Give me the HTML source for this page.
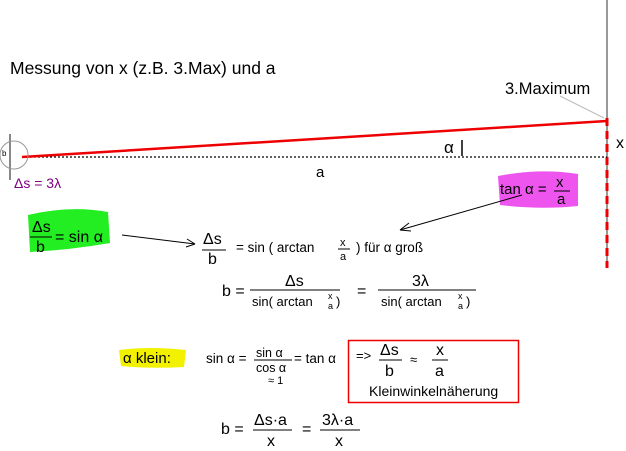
<!DOCTYPE html>
<html><head><style>body{margin:0;background:#fff}svg{display:block}text{font-family:"Liberation Sans",sans-serif;fill:#000}</style></head><body>
<svg width="626" height="451" viewBox="0 0 626 451">
<text x="10" y="74" font-size="17.5">Messung von x (z.B. 3.Max) und a</text>
<text x="505" y="94" font-size="16.5">3.Maximum</text>
<line x1="560" y1="96" x2="604" y2="118" stroke="#bbb" stroke-width="1"/>
<line x1="607" y1="0" x2="607" y2="265" stroke="#999" stroke-width="2"/>
<line x1="607" y1="118" x2="607" y2="268" stroke="#e00" stroke-width="3" stroke-dasharray="8,5"/>
<line x1="22" y1="157" x2="607" y2="157" stroke="#000" stroke-width="1.3" stroke-dasharray="2,2"/>
<line x1="22" y1="157" x2="607" y2="121" stroke="#e00" stroke-width="2.5"/>
<line x1="10" y1="134" x2="10" y2="180" stroke="#888" stroke-width="2"/>
<circle cx="14" cy="155" r="14" fill="none" stroke="#999"/>
<text x="2" y="156" font-size="8">b</text>
<text x="14" y="188" font-size="14" style="fill:#800080">Δs = 3λ</text>
<text x="444" y="153" font-size="17">α</text>
<line x1="462" y1="140" x2="462" y2="156" stroke="#000" stroke-width="1.5"/>
<text x="316" y="177" font-size="15">a</text>
<text x="616" y="148" font-size="16">x</text>
<path d="M498 176 Q540 168 578 174 L578 206 Q540 210 500 205 Z" fill="#ee55ee"/>
<text x="500" y="194" font-size="15">tan α =</text>
<text x="556" y="187" font-size="15">x</text><line x1="554" y1="191" x2="570" y2="191" stroke="#000"/><text x="557" y="204" font-size="15">a</text>
<line x1="522" y1="195" x2="400" y2="230" stroke="#000"/><path d="M400 230 l9 -7 m-9 7 l11 1" stroke="#000" fill="none"/>
<path d="M28 215 Q70 205 108 212 L110 243 Q70 250 30 252 Z" fill="#22ee22"/>
<text x="32" y="232" font-size="16">Δs</text><line x1="30" y1="237" x2="52" y2="237" stroke="#000"/><text x="36" y="252" font-size="16">b</text>
<text x="55" y="242" font-size="16">= sin α</text>
<line x1="122" y1="235" x2="195" y2="244" stroke="#000"/><path d="M195 244 l-8 -5 m8 5 l-9 3" stroke="#000" fill="none"/>
<text x="203" y="244" font-size="16">Δs</text><line x1="202" y1="250" x2="226" y2="250" stroke="#000"/><text x="208" y="264" font-size="16">b</text>
<text x="236" y="252" font-size="13.5">= sin ( arctan</text>
<text x="340" y="246" font-size="11">x</text><line x1="338" y1="249" x2="350" y2="249" stroke="#000"/><text x="340" y="260" font-size="11">a</text>
<text x="356" y="252" font-size="13.5">) für α groß</text>
<text x="222" y="296" font-size="16">b =</text>
<text x="285" y="286" font-size="16">Δs</text><line x1="250" y1="290" x2="340" y2="290" stroke="#000"/>
<text x="252" y="306" font-size="13">sin( arctan</text><text x="328" y="299" font-size="9">x</text><text x="328" y="309" font-size="9">a</text><text x="336" y="306" font-size="13">)</text>
<text x="357" y="296" font-size="16">=</text>
<text x="412" y="286" font-size="16">3λ</text><line x1="378" y1="290" x2="476" y2="290" stroke="#000"/>
<text x="381" y="306" font-size="13">sin( arctan</text><text x="458" y="299" font-size="9">x</text><text x="458" y="309" font-size="9">a</text><text x="466" y="306" font-size="13">)</text>
<path d="M119 350 Q150 346 186 350 L184 367 Q150 369 121 366 Z" fill="#f2f200"/>
<text x="123" y="363" font-size="15">α klein:</text>
<text x="206" y="363" font-size="13.5">sin α =</text>
<text x="256" y="357" font-size="12.5">sin α</text><line x1="254" y1="360" x2="292" y2="360" stroke="#000"/><text x="256" y="372" font-size="12.5">cos α</text>
<text x="294" y="363" font-size="13.5">= tan α</text>
<text x="268" y="384" font-size="11">≈ 1</text>
<rect x="348.5" y="340.5" width="170" height="62" fill="none" stroke="#e00" stroke-width="1.5"/>
<text x="356" y="360" font-size="13">=&gt;</text>
<text x="380" y="355" font-size="16">Δs</text><line x1="379" y1="360" x2="402" y2="360" stroke="#000"/><text x="385" y="376" font-size="16">b</text>
<text x="410" y="364" font-size="13">≈</text>
<text x="436" y="355" font-size="16">x</text><line x1="432" y1="360" x2="448" y2="360" stroke="#000"/><text x="435" y="376" font-size="16">a</text>
<text x="369" y="396" font-size="14">Kleinwinkelnäherung</text>
<text x="221" y="434" font-size="16">b =</text>
<text x="254" y="425" font-size="16">Δs·a</text><line x1="253" y1="430" x2="292" y2="430" stroke="#000"/><text x="267" y="446" font-size="16">x</text>
<text x="302" y="434" font-size="16">=</text>
<text x="322" y="425" font-size="16">3λ·a</text><line x1="320" y1="430" x2="360" y2="430" stroke="#000"/><text x="335" y="446" font-size="16">x</text>
</svg></body></html>
